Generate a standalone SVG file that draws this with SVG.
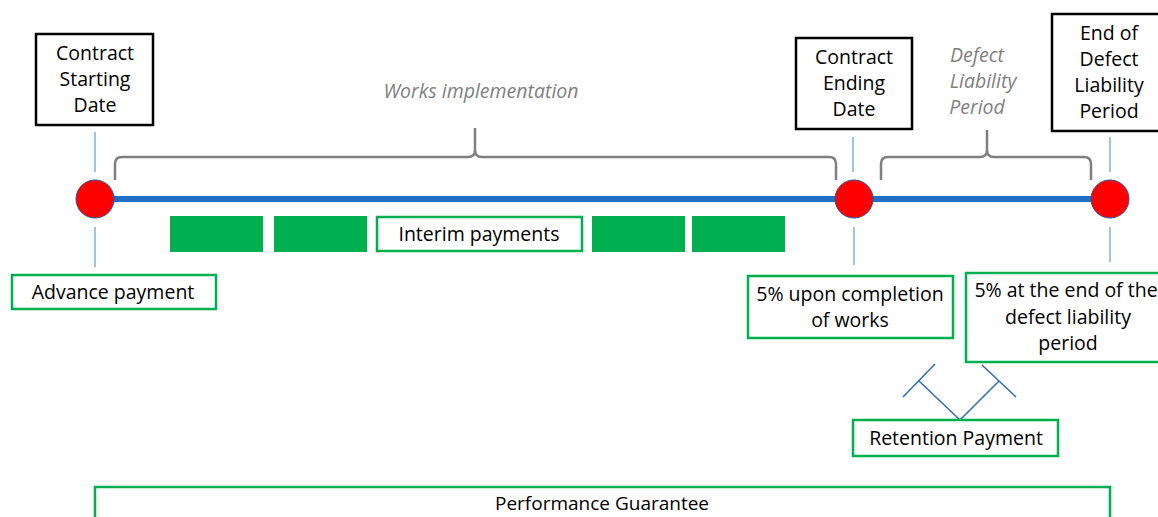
<svg xmlns="http://www.w3.org/2000/svg" width="1158" height="517" viewBox="0 0 1158 517">
<style>
.t{font-family:"Open Sans","Liberation Sans",sans-serif;font-size:19.5px;fill:#000;text-anchor:middle}
.gi{font-family:"Open Sans","Liberation Sans",sans-serif;font-size:19.5px;fill:#7F7F7F;font-style:italic;text-anchor:middle}
.bb{fill:#fff;stroke:#000;stroke-width:2.5}
.gb{fill:#fff;stroke:#00B050;stroke-width:2.5}
.gf{fill:#00B050}
.tick{stroke:#5B9BD5;stroke-width:1.2}
.br{fill:none;stroke:#7F7F7F;stroke-width:2.5}
.dot{fill:#FF0000;stroke:#2F528F;stroke-width:1}
.rp{fill:none;stroke:#2E6DB4;stroke-width:1.5}
</style>
<rect width="1158" height="517" fill="#fff"/>
<g id="connectors">
<line x1="95" y1="199" x2="1110" y2="199" stroke="#1F6FC6" stroke-width="6"/>
<line class="tick" x1="95" y1="132" x2="95" y2="172"/>
<line class="tick" x1="95" y1="227" x2="95" y2="267"/>
<line class="tick" x1="853" y1="137" x2="853" y2="172"/>
<line class="tick" x1="854" y1="227" x2="854" y2="265"/>
<line class="tick" x1="1110" y1="137" x2="1110" y2="172"/>
<line class="tick" x1="1110" y1="227" x2="1110" y2="262"/>
<path class="br" d="M115,180 L115,164 Q115,157 122,157 L468,157 Q475,157 475,150 L475,128 M475,150 Q475,157 482,157 L829,157 Q836,157 836,164 L836,180"/>
<path class="br" d="M881,180 L881,164 Q881,157 888,157 L980,157 Q987,157 987,150 L987,130 M987,150 Q987,157 994,157 L1084,157 Q1091,157 1091,164 L1091,180"/>
<path class="rp" d="M919,381 L960,420 L999,381 M903,397 L935,364 M982,365 L1016,397"/>
</g>
<g id="start-dot"><circle class="dot" cx="95" cy="199" r="19"/></g>
<g id="end-dot"><circle class="dot" cx="854" cy="199" r="19"/></g>
<g id="dlp-dot"><circle class="dot" cx="1110" cy="199" r="19"/></g>
<g id="contract-start">
<rect class="bb" x="36" y="34" width="117" height="91"/>
<text class="t" x="95" y="60">Contract</text>
<text class="t" x="95" y="86">Starting</text>
<text class="t" x="95" y="112">Date</text>
</g>
<g id="works-label"><text class="gi" x="481" y="98">Works implementation</text></g>
<g id="contract-end">
<rect class="bb" x="796" y="38" width="116" height="91"/>
<text class="t" x="854" y="64">Contract</text>
<text class="t" x="854" y="90">Ending</text>
<text class="t" x="854" y="116">Date</text>
</g>
<g id="dlp-label">
<text class="gi" x="977" y="62">Defect</text>
<text class="gi" x="983" y="88">Liability</text>
<text class="gi" x="977" y="114">Period</text>
</g>
<g id="end-dlp">
<rect class="bb" x="1052" y="14" width="112" height="117"/>
<text class="t" x="1109" y="40">End of</text>
<text class="t" x="1109" y="66">Defect</text>
<text class="t" x="1109" y="92">Liability</text>
<text class="t" x="1109" y="118">Period</text>
</g>
<g id="interim">
<rect class="gf" x="170" y="216" width="93" height="36"/>
<rect class="gf" x="274" y="216" width="93" height="36"/>
<rect class="gb" x="377" y="217" width="205" height="34"/>
<text class="t" x="479" y="241">Interim payments</text>
<rect class="gf" x="592" y="216" width="93" height="36"/>
<rect class="gf" x="692" y="216" width="93" height="36"/>
</g>
<g id="advance">
<rect class="gb" x="12" y="275" width="204" height="34"/>
<text class="t" x="113" y="299">Advance payment</text>
</g>
<g id="five-completion">
<rect class="gb" x="748" y="276" width="205" height="62"/>
<text class="t" x="850" y="301">5% upon completion</text>
<text class="t" x="850" y="327">of works</text>
</g>
<g id="five-end">
<rect class="gb" x="966" y="273" width="200" height="89"/>
<text class="t" x="1066" y="297">5% at the end of the</text>
<text class="t" x="1068" y="324">defect liability</text>
<text class="t" x="1068" y="350">period</text>
</g>
<g id="retention">
<rect class="gb" x="853" y="420" width="205" height="36"/>
<text class="t" x="956" y="445">Retention Payment</text>
</g>
<g id="performance">
<rect class="gb" x="95" y="487" width="1015" height="40"/>
<text class="t" x="602" y="510" style="font-size:19px">Performance Guarantee</text>
</g>
</svg>
